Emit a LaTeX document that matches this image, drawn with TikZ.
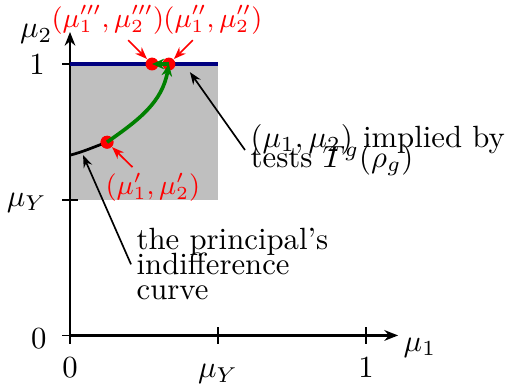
\documentclass[tikz,border=0pt]{standalone}
\usepackage{amsmath,amssymb}
\usetikzlibrary{positioning,calc,arrows.meta}

\begin{document}
\begin{tikzpicture}[x=3.386cm,y=3.104cm,scale=2.02,every node/.style={transform shape,inner sep=1.65pt},
  axis/.style={line width=1.8pt,-{Stealth[length=9pt,width=7pt]}},
  tickmark/.style={line width=1.2pt},
  dot/.style={circle,fill=red,inner sep=0pt,minimum size=4.2pt},
  ptlabel/.style={red,font=\small},
  redtip/.style={red,line width=1.1pt,-{Stealth[length=8pt,width=6pt]}},
  blacktip/.style={black,line width=1.1pt,-{Stealth[length=8pt,width=6pt]}},
  greenpath/.style={green!50!black,line width=2.4pt,-{Stealth[length=8pt,width=7pt]}}]
\useasboundingbox (-0.2365,-0.192) rectangle (1.476,1.236);
\fill[lightgray] (0,0.5) rectangle (0.5,1);
% ticks and axes
\draw[tickmark] (0,-0.03) -- (0,0.03);
\draw[tickmark] (0.5,-0.03) -- (0.5,0.03);
\draw[tickmark] (1,-0.03) -- (1,0.03);
\draw[tickmark] (-0.027,0) -- (0.027,0);
\draw[tickmark] (-0.027,0.5) -- (0.027,0.5);
\draw[tickmark] (-0.027,1) -- (0.027,1);
\coordinate (O) at (0,0);
\coordinate (xend) at (1.108,0);
\coordinate (yend) at (0,1.118);
\draw[axis] (O) -- (xend);
\draw[axis] (O) -- (yend);
\draw[line width=3.2pt,blue!50!black] (0,1) -- (0.5,1);
\node[anchor=west] (xlab) at (1.108,-0.044) {$\mu_1$};
\node[anchor=east] (ylab) at (-0.04,1.11) {$\mu_2$};
\node[anchor=base] (x0) at (0,-0.155) {0};
\node[anchor=base] (xmu) at (0.5,-0.155) {$\mu_Y$};
\node[anchor=base] (x1) at (1,-0.155) {1};
\node[anchor=east] (y0) at (-0.06,-0.011) {0};
\node[anchor=east] (ymu) at (-0.06,0.49) {$\mu_Y$};
\node[anchor=east] (y1) at (-0.066,1) {1};
% indifference curve and points
\coordinate (ic0) at (0,0.664);
\coordinate (icpt) at (0.044,0.664);
\node[dot] (p1) at (0.125,0.712) {};
\draw[line width=1.8pt] (ic0) to[out=15,in=200] (p1.center);
\node[dot] (p1) at (0.125,0.712) {};
\node[dot] (p2) at (0.334,1) {};
\node[dot] (p3) at (0.277,1) {};
\draw[greenpath] (p1.center) to[out=35,in=-100] (p2.center);
\draw[greenpath] (p2.center) -- (p3.center);
% labels
\node[ptlabel] (l3) at (0.128,1.162) {$(\mu_1''',\mu_2''')$};
\node[ptlabel] (l2) at (0.483,1.162) {$(\mu_1'',\mu_2'')$};
\node[ptlabel] (l1) at (0.28,0.546) {$(\mu_1',\mu_2')$};
\draw[redtip] (l3) -- (p3);
\draw[redtip] (l2) -- (p2);
\draw[redtip] (l1) -- (p1);
\node[anchor=west,align=left] (impl) at (0.591,0.683) {$(\mu_1,\mu_2)$ implied by\\[-5.5pt]tests $T^g(\rho_g)$};
\coordinate (setpt) at (0.405,0.97);
\draw[blacktip] (impl.west) -- (setpt);
\node[anchor=west,align=left] (princ) at (0.206,0.262) {the principal's\\[-3.9pt]indifference\\[-3.9pt]curve};
\draw[blacktip] (princ.west) -- (icpt);
\end{tikzpicture}
\end{document}
